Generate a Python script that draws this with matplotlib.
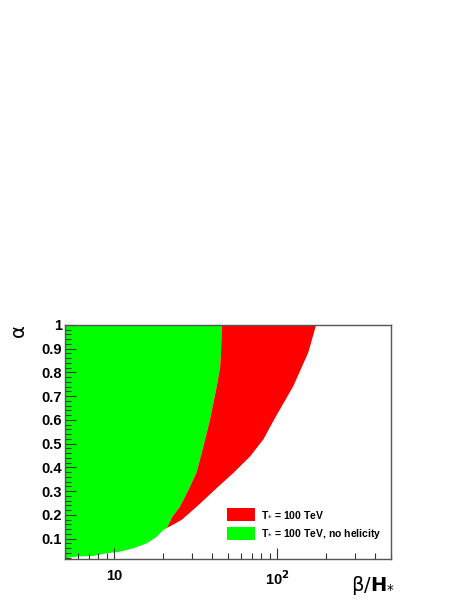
import numpy as np
import matplotlib
matplotlib.use('Agg')
import matplotlib.pyplot as plt
from matplotlib.patches import Patch
from matplotlib.ticker import MultipleLocator, LogLocator, NullFormatter

# boundary curves (beta/H*, alpha)
# lower edge of the allowed region, from left axis to where red starts
low_beta = [5.0, 5.9, 7.46, 9.02, 10.9, 13.1, 15.9, 18.3, 20.1, 21.05]
low_alpha = [0.017, 0.024, 0.027, 0.038, 0.045, 0.059, 0.080, 0.108, 0.137, 0.144]

# right edge of the green region (no helicity), bottom to top
green_beta = [21.05, 22.7, 25.4, 29.3, 32.0, 34.5, 36.2, 38.8, 42.7, 44.7, 45.3, 45.8]
green_alpha = [0.144, 0.19, 0.235, 0.320, 0.377, 0.461, 0.518, 0.602, 0.743, 0.82, 0.885, 1.0]

# outer edge of the red region, bottom to top
red_beta = [21.05, 26.0, 32.2, 41.6, 54.0, 68.5, 82.4, 96.0, 125.9, 155.6, 173.5]
red_alpha = [0.144, 0.179, 0.235, 0.306, 0.377, 0.447, 0.518, 0.602, 0.743, 0.885, 1.0]

labels = ['T$_{*}$ = 100 TeV', 'T$_{*}$ = 100 TeV, no helicity']
colors = ['#ff0000', '#00ff00']

fig = plt.figure(figsize=(4.69, 6.07), dpi=100)
ax = fig.add_axes([0.1386, 0.0783, 0.6951, 0.3863])

# green polygon: left axis -> top -> down green edge -> back along lower edge
gx = [5.0, 5.0] + green_beta[::-1] + low_beta[::-1]
gy = [low_alpha[0], 1.0] + green_alpha[::-1] + low_alpha[::-1]
ax.fill(gx, gy, color=colors[1], lw=0)

# red polygon: junction -> up outer edge -> back down green edge
rx = red_beta + green_beta[::-1]
ry = red_alpha + green_alpha[::-1]
ax.fill(rx, ry, color=colors[0], lw=0)

ax.set_xscale('log')
ax.set_xlim(5, 500)
ax.set_ylim(0.012, 1.0)

yt = np.round(np.arange(0.1, 1.01, 0.1), 1)
ax.set_yticks(yt)
ax.set_yticklabels(['%g' % v for v in yt])
ax.yaxis.set_minor_locator(MultipleLocator(0.02))

ax.set_xticks([10, 100])
ax.set_xticklabels(['10', r'10$^{\mathbf{2}}$'])
ax.xaxis.set_minor_locator(LogLocator(base=10, subs=np.arange(2, 10)))
ax.xaxis.set_minor_formatter(NullFormatter())

ax.tick_params(which='both', direction='in', top=False, right=False, color='#333333')
ax.tick_params(which='major', length=8, width=0.8, labelsize=10.5)
ax.tick_params(axis='y', which='major', pad=2)
ax.tick_params(axis='x', which='major', pad=7)
ax.tick_params(which='minor', length=4, width=0.8)
for lab in ax.get_xticklabels() + ax.get_yticklabels():
    lab.set_fontweight('bold')
    lab.set_family('Liberation Sans')
for sp in ax.spines.values():
    sp.set_color('#555555')
    sp.set_linewidth(1.0)

handles = [Patch(facecolor=c, edgecolor='none') for c in colors]
leg = ax.legend(handles, labels, loc='lower right', bbox_to_anchor=(1.0, 0.04),
                frameon=False, prop={'family': 'Liberation Sans', 'weight': 'bold', 'size': 7.5},
                handlelength=2.7, handleheight=1.5, labelspacing=0.55, handletextpad=0.6)

fig.text(18 / 469, 1 - 331 / 607, 'α', rotation=90, fontsize=14,
         ha='center', va='center', family='DejaVu Sans')
fig.text(395 / 469, 1 - 591 / 607, r'β/$\mathbf{H}_{*}$', fontsize=14,
         ha='right', va='baseline', family='DejaVu Sans')

fig.savefig('out.png', dpi=100)
